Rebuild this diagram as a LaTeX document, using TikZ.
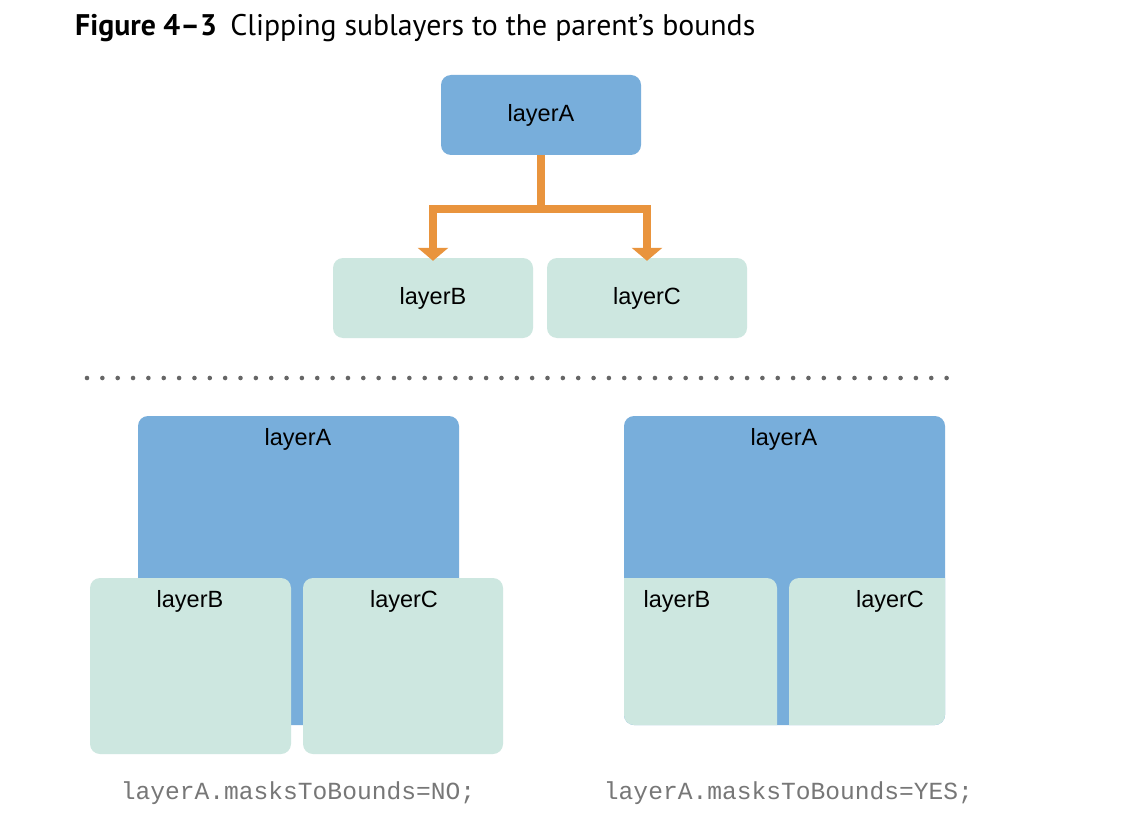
\documentclass[tikz,border=0pt]{standalone}
\usepackage{fontspec}
\setmainfont{Liberation Sans}
\newfontfamily\titlefont{PT Sans}
\newfontfamily\codefont{Liberation Mono}
\usetikzlibrary{arrows.meta,calc}
\definecolor{parentblue}{HTML}{78AEDB}
\definecolor{subgreen}{HTML}{CDE7E0}
\definecolor{linkorange}{HTML}{E9943D}
\definecolor{dotgray}{HTML}{666666}
\definecolor{codegray}{HTML}{777777}
\tikzset{
  layerbox/.style={rectangle, rounded corners=10pt, inner sep=0pt, draw=none, font=\fontsize{23.5}{28}\selectfont},
  parent/.style={layerbox, fill=parentblue},
  sub/.style={layerbox, fill=subgreen},
  lbl/.style={inner sep=0pt, font=\fontsize{23.5}{28}\selectfont},
  link/.style={draw=linkorange, line width=8pt, -{Triangle[width=30pt,length=13pt]}},
  code/.style={inner sep=0pt, text=codegray, font=\codefont\fontsize{24.6}{29}\selectfont}
}
\begin{document}
\begin{tikzpicture}[x=1pt,y=-1pt]
\useasboundingbox (0,0) rectangle (1122,840);
\fill[white] (0,0) rectangle (1122,840);
% title
\node[anchor=base west, inner sep=0pt, font=\titlefont\fontsize{29.8}{34}\selectfont] (title) at (75,36) {\textbf{Figure 4–3}\hspace{0.45em}Clipping sublayers to the parent’s bounds};
% top tree
\node[parent, minimum width=200pt, minimum height=80pt] (tA) at (541,115) {layerA};
\node[sub, minimum width=200pt, minimum height=80pt] (tB) at (433,298) {layerB};
\node[sub, minimum width=200pt, minimum height=80pt] (tC) at (647,298) {layerC};
\coordinate (fork) at ($(tA.south)+(0,54)$);
\draw[link] (tA.south) -- (fork) -| ([yshift=-3pt]tB.north);
\draw[link] (fork) -| ([yshift=-3pt]tC.north);
% dotted separator
\foreach \i in {0,...,56} \fill[dotgray] (87+\i*15.35,378) circle (2.3pt);
% bottom left: masksToBounds = NO
\node[parent, minimum width=321pt, minimum height=309pt] (lA) at (298.5,570.5) {};
\node[lbl] at (298,439) {layerA};
\node[sub, minimum width=201pt, minimum height=176pt] (lB) at (190.5,666) {};
\node[lbl] at (190,601) {layerB};
\node[sub, minimum width=200pt, minimum height=176pt] (lC) at (403,666) {};
\node[lbl] at (404,601) {layerC};
\node[code] (codeNo) at (298,793) {layerA.masksToBounds=NO;};
% bottom right: masksToBounds = YES
\node[parent, minimum width=321pt, minimum height=309pt] (rA) at (784.5,570.5) {};
\node[lbl] at (784,439) {layerA};
\begin{scope}
  \clip[rounded corners=10pt] (624,416) rectangle (945,725);
  \node[sub, minimum width=201pt, minimum height=176pt] (rB) at (676.5,666) {};
  \node[sub, minimum width=201pt, minimum height=176pt] (rC) at (889.5,666) {};
  \node[lbl] at (677,601) {layerB};
  \node[lbl] at (890,601) {layerC};
\end{scope}
\node[code] (codeYes) at (788.5,793) {layerA.masksToBounds=YES;};
\end{tikzpicture}
\end{document}
